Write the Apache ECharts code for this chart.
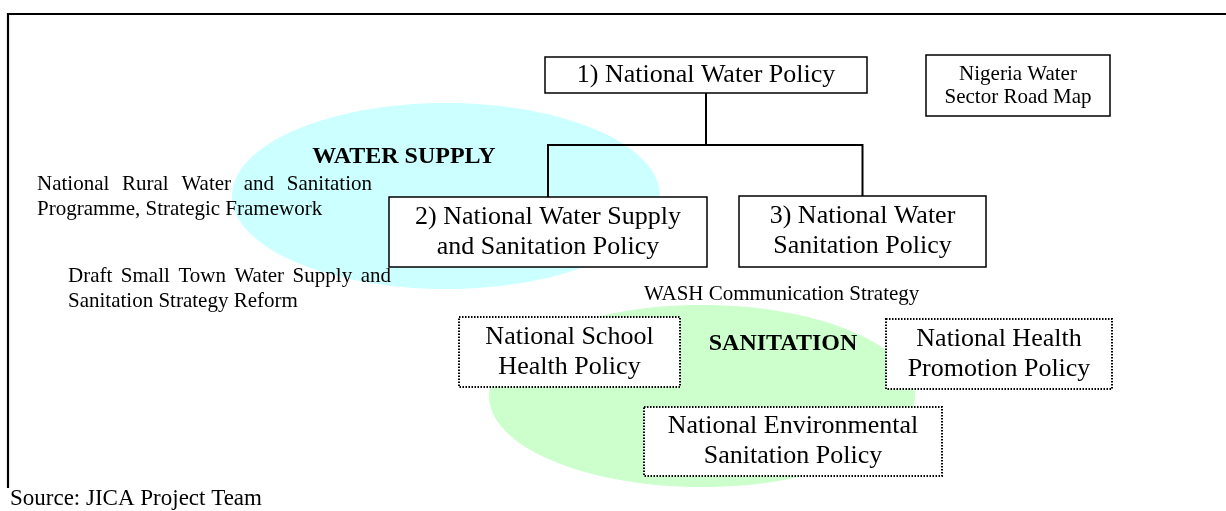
<!DOCTYPE html>
<html>
<head>
<meta charset="UTF-8">
<title>Water and sanitation policy framework</title>
<style>
  html, body { margin: 0; padding: 0; background: #fff; }
  #main { width: 1226px; height: 511px; }
</style>
</head>
<body>
<div id="main"></div>
<script src="https://cdn.jsdelivr.net/npm/echarts@6/dist/echarts.min.js"></script>
<script>
var SERIF = '"Liberation Serif", "Times New Roman", serif';

// policy boxes (x right, y down)
var boxText = [
  '1) National Water Policy',
  'Nigeria Water\nSector Road Map',
  '2) National Water Supply\nand Sanitation Policy',
  '3) National Water\nSanitation Policy',
  'National School\nHealth Policy',
  'National Health\nPromotion Policy',
  'National Environmental\nSanitation Policy'
];
var boxLeft = [545, 926, 389, 739, 459, 886, 644];
var boxTop = [57, 55, 197, 196, 317, 319, 407];
var boxRight = [867, 1110, 707, 986, 680, 1112, 942];
var boxBottom = [93, 116, 267, 267, 387, 389, 476];
var boxKind = ['policy', 'roadmap', 'policy', 'policy', 'related', 'related', 'related'];

// tree: parent box -> child boxes, joined on a bus line
var linkParent = 0;
var linkChildren = [2, 3];
var linkBusY = 145;

// the two theme areas
var areaName = ['WATER SUPPLY', 'SANITATION'];
var areaCx = [446, 702];
var areaCy = [196, 396];
var areaRx = [214, 213];
var areaRy = [93, 91];
var areaLabelX = [404, 783];
var areaLabelBase = [165, 352];

// free notes (first lines justified between left and right)
var noteLines = [
  ['National Rural Water and Sanitation', 'Programme, Strategic Framework'],
  ['Draft Small Town Water Supply and', 'Sanitation Strategy Reform'],
  ['WASH Communication Strategy'],
  ['Source: JICA Project Team']
];
var noteLeft = [37, 68, 644, 10];
var noteRight = [372, 391, 921, 283];
var noteBase = [192, 284, 302, 507];
var noteKind = ['small', 'small', 'small', 'source'];

// frame (top edge and left edge)
var frameX = [8, 8, 1226];
var frameY = [488, 14, 14];

var boxStyle = {
  policy: { size: 26, lineHeight: 30, width: 1.5, dash: null },
  roadmap: { size: 21, lineHeight: 23, width: 1.5, dash: null },
  related: { size: 26, lineHeight: 30, width: 2, dash: [1.5, 1.5] }
};
var noteStyle = {
  small: { size: 21, lineHeight: 25 },
  source: { size: 23, lineHeight: 25 }
};
var areaColor = ['#ccffff', '#ccffcc'];

var measure = document.createElement('canvas').getContext('2d');

function txt(text, x, y, size, align, bold) {
  return {
    type: 'text',
    style: {
      text: text, x: x, y: y,
      font: (bold ? 'bold ' : '') + size + 'px ' + SERIF,
      align: align, textAlign: align,
      verticalAlign: 'middle', textVerticalAlign: 'middle',
      fill: '#000'
    }
  };
}

function renderArea(params, api) {
  var i = params.dataIndex;
  var c = api.coord([areaCx[i], areaCy[i]]);
  var e = api.coord([areaCx[i] + areaRx[i], areaCy[i] + areaRy[i]]);
  return {
    type: 'ellipse',
    shape: { cx: c[0], cy: c[1], rx: e[0] - c[0], ry: e[1] - c[1] },
    style: { fill: areaColor[i], stroke: null }
  };
}

function renderAreaLabel(params, api) {
  var i = params.dataIndex;
  var p = api.coord([areaLabelX[i], areaLabelBase[i]]);
  return txt(areaName[i], p[0], p[1] - 0.34 * 24, 24, 'center', true);
}

function centerX(i) { return (boxLeft[i] + boxRight[i]) / 2; }

function renderLink(params, api) {
  var pts = [];
  if (params.dataIndex === 0) {
    pts = [[centerX(linkParent), boxBottom[linkParent]], [centerX(linkParent), linkBusY]];
  } else {
    var c = linkChildren[params.dataIndex - 1];
    pts = [[centerX(c), boxTop[c]], [centerX(c), linkBusY], [centerX(linkParent), linkBusY]];
  }
  return {
    type: 'polyline',
    shape: { points: pts.map(function (p) { return api.coord(p); }) },
    style: { stroke: '#000', lineWidth: 2, fill: null }
  };
}

function renderBox(params, api) {
  var i = params.dataIndex;
  var s = boxStyle[boxKind[i]];
  var p0 = api.coord([boxLeft[i], boxTop[i]]);
  var p1 = api.coord([boxRight[i], boxBottom[i]]);
  var t = txt(boxText[i], (p0[0] + p1[0]) / 2, (p0[1] + p1[1]) / 2, s.size, 'center');
  t.style.lineHeight = s.lineHeight;
  return {
    type: 'group',
    children: [
      {
        type: 'rect',
        shape: { x: p0[0], y: p0[1], width: p1[0] - p0[0], height: p1[1] - p0[1] },
        style: { fill: '#fff', stroke: '#000', lineWidth: s.width, lineDash: s.dash }
      },
      t
    ]
  };
}

function renderNote(params, api) {
  var i = params.dataIndex;
  var s = noteStyle[noteKind[i]];
  var font = s.size + 'px ' + SERIF;
  measure.font = font;
  var p0 = api.coord([noteLeft[i], noteBase[i]]);
  var p1 = api.coord([noteRight[i], noteBase[i]]);
  var span = p1[0] - p0[0];
  var kids = [];
  noteLines[i].forEach(function (line, k) {
    var y = p0[1] + k * s.lineHeight - 0.34 * s.size;
    var last = k === noteLines[i].length - 1;
    if (last) {
      kids.push(txt(line, p0[0], y, s.size, 'left'));
      return;
    }
    var words = line.split(' ');
    var widths = words.map(function (w) { return measure.measureText(w).width; });
    var total = widths.reduce(function (a, b) { return a + b; }, 0);
    var gap = (span - total) / (words.length - 1);
    var x = p0[0];
    words.forEach(function (w, j) {
      kids.push(txt(w, x, y, s.size, 'left'));
      x += widths[j] + gap;
    });
  });
  return { type: 'group', children: kids };
}

function renderFrame(params, api) {
  var pts = frameX.map(function (x, k) { return api.coord([x, frameY[k]]); });
  return {
    type: 'polyline',
    shape: { points: pts },
    style: { stroke: '#000', lineWidth: 2.2, fill: null }
  };
}

function seq(n) {
  var a = [];
  for (var k = 0; k < n; k++) a.push([k, 0]);
  return a;
}

var chart = echarts.init(document.getElementById('main'), null, { renderer: 'canvas' });

var option = {
  animation: false,
  grid: { left: 0, right: 0, top: 0, bottom: 0 },
  xAxis: { type: 'value', min: 0, max: 1226, show: false },
  yAxis: { type: 'value', min: 0, max: 511, inverse: true, show: false },
  series: [
    { type: 'custom', clip: false, z: 1, renderItem: renderArea, data: seq(areaName.length) },
    { type: 'custom', clip: false, z: 2, renderItem: renderAreaLabel, data: seq(areaName.length) },
    { type: 'custom', clip: false, z: 2, renderItem: renderNote, data: seq(noteLines.length) },
    { type: 'custom', clip: false, z: 3, renderItem: renderLink, data: seq(linkChildren.length + 1) },
    { type: 'custom', clip: false, z: 4, renderItem: renderBox, data: seq(boxText.length) },
    { type: 'custom', clip: false, z: 5, renderItem: renderFrame, data: seq(1) }
  ]
};

chart.setOption(option);
</script>
</body>
</html>
